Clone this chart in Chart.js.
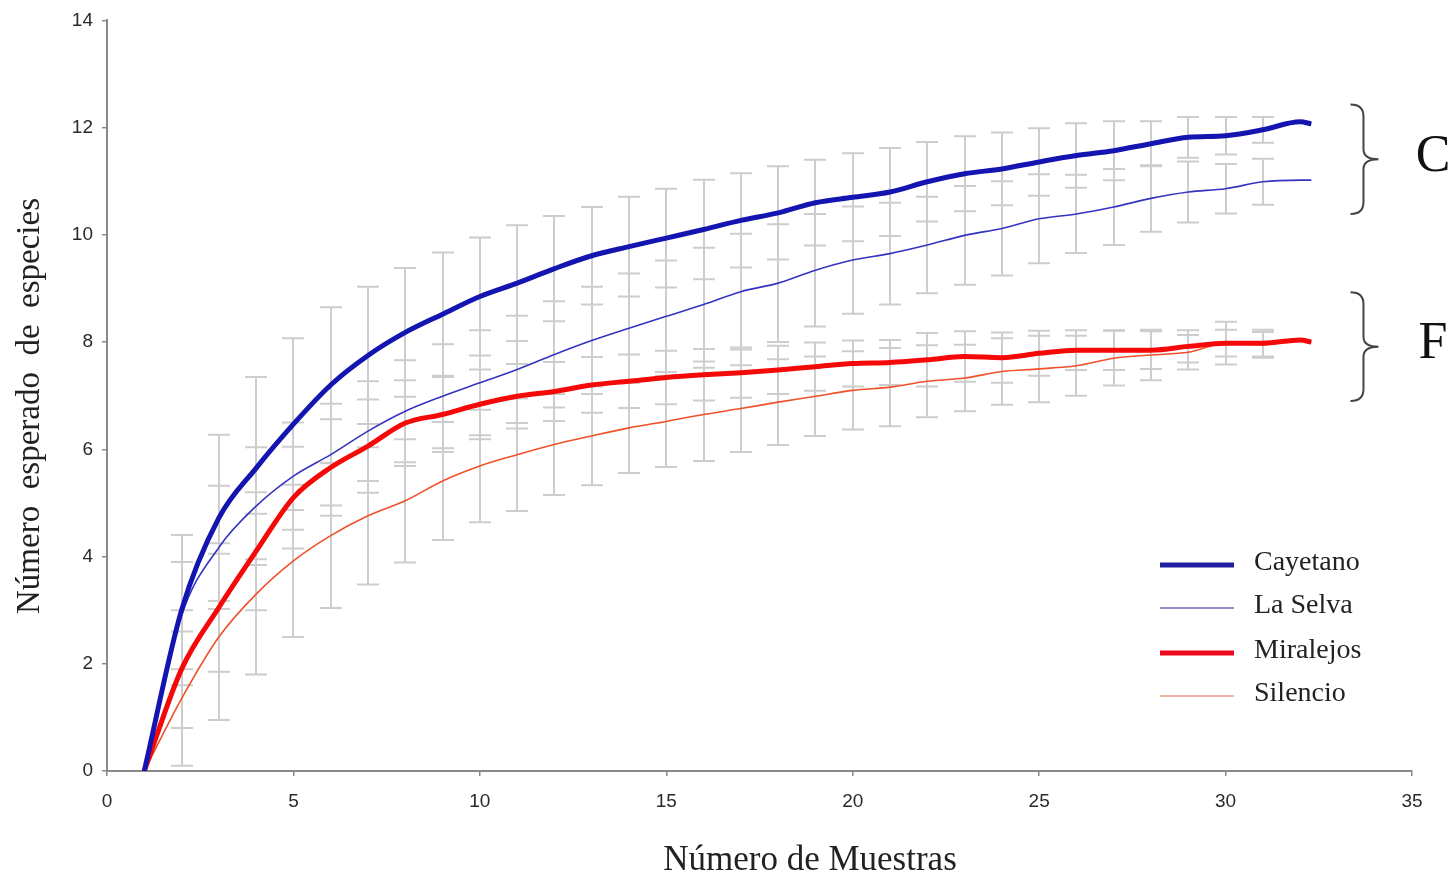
<!DOCTYPE html>
<html>
<head>
<meta charset="utf-8">
<script src="https://cdn.jsdelivr.net/npm/chart.js@4"></script>
<style>
  html, body { margin: 0; padding: 0; background: #fff; }
  #wrap { width: 1456px; height: 880px; position: relative; }
</style>
</head>
<body>
<div id="wrap"><canvas id="chart"></canvas></div>
<script>
// número de muestras (eje x) de cada punto de las curvas
const samples = [1, 2, 3, 4, 5, 6, 7, 8, 9, 10, 11, 12, 13, 14, 15, 16, 17, 18, 19, 20,
                 21, 22, 23, 24, 25, 26, 27, 28, 29, 30, 31, 32, 32.3];

// especies esperadas por sitio
const cayetano  = [0, 3.0, 4.72, 5.65, 6.47, 7.2, 7.75, 8.18, 8.52, 8.85, 9.1, 9.37, 9.61, 9.78, 9.94, 10.1, 10.27, 10.41, 10.6, 10.7,
                   10.8, 10.99, 11.14, 11.23, 11.36, 11.48, 11.57, 11.7, 11.82, 11.85, 11.96, 12.11, 12.07];
const laSelva   = [0, 2.9, 4.17, 4.94, 5.5, 5.9, 6.34, 6.71, 6.99, 7.24, 7.49, 7.77, 8.03, 8.26, 8.48, 8.7, 8.94, 9.1, 9.34, 9.53,
                   9.65, 9.81, 9.99, 10.12, 10.3, 10.39, 10.52, 10.68, 10.8, 10.86, 10.99, 11.02, 11.02];
const miralejos = [0, 1.9, 3.05, 4.1, 5.1, 5.66, 6.06, 6.49, 6.65, 6.84, 6.99, 7.08, 7.2, 7.27, 7.34, 7.39, 7.43, 7.48, 7.54, 7.6,
                   7.62, 7.67, 7.73, 7.71, 7.79, 7.85, 7.85, 7.85, 7.92, 7.98, 7.98, 8.04, 8.0];
const silencio  = [0, 1.35, 2.5, 3.3, 3.92, 4.39, 4.76, 5.04, 5.41, 5.69, 5.9, 6.09, 6.25, 6.4, 6.52, 6.65, 6.76, 6.88, 6.99, 7.1,
                   7.16, 7.27, 7.33, 7.45, 7.5, 7.56, 7.7, 7.76, 7.81, 7.98, 7.95, 8.04, 8.0];

// desviación estándar (barras de error) en x = 2..31
const errX = [2, 3, 4, 5, 6, 7, 8, 9, 10, 11, 12, 13, 14, 15, 16, 17, 18, 19, 20, 21,
              22, 23, 24, 25, 26, 27, 28, 29, 30, 31];
const cayetanoSd  = [1.4, 1.55, 1.7, 1.6, 1.45, 1.28, 1.2, 1.15, 1.1, 1.08, 0.98, 0.91, 0.93, 0.92, 0.93, 0.88, 0.87, 0.8, 0.82, 0.82,
                     0.74, 0.7, 0.68, 0.63, 0.6, 0.55, 0.42, 0.38, 0.35, 0.24];
const laSelvaSd   = [1.0, 1.15, 1.1, 1.0, 0.95, 0.93, 0.95, 0.97, 0.98, 1.0, 0.99, 1.0, 1.02, 1.04, 1.06, 1.08, 1.1, 1.05, 1.0, 0.95,
                     0.9, 0.92, 0.88, 0.83, 0.73, 0.71, 0.62, 0.57, 0.46, 0.43];
const miralejosSd = [1.1, 1.2, 1.1, 0.95, 0.9, 0.87, 0.8, 0.7, 0.65, 0.6, 0.55, 0.52, 0.5, 0.5, 0.48, 0.47, 0.45, 0.45, 0.43, 0.42,
                     0.5, 0.47, 0.47, 0.42, 0.37, 0.37, 0.35, 0.3, 0.25, 0.25];
const silencioSd  = [1.25, 1.55, 1.5, 1.42, 1.35, 1.28, 1.15, 1.1, 1.05, 1.05, 0.94, 0.92, 0.84, 0.85, 0.87, 0.81, 0.8, 0.74, 0.73, 0.73,
                     0.67, 0.62, 0.62, 0.62, 0.56, 0.51, 0.47, 0.32, 0.4, 0.24];

const xTicks = [0, 5, 10, 15, 20, 25, 30, 35];
const yTicks = [0, 2, 4, 6, 8, 10, 12, 14];

const xTitle = 'Número de Muestras';
const yTitle = 'Número  esperado  de  especies';

// grupos (llave + letra)
const groups = [
    { label: 'C', top: 12.43, bottom: 10.39 },
    { label: 'F', top: 8.93, bottom: 6.9 }
];

const series = [
    { name: 'Cayetano',  values: cayetano,  sd: cayetanoSd,  color: '#1414b0', width: 5,   legendColor: '#1e1ea0' },
    { name: 'La Selva',  values: laSelva,   sd: laSelvaSd,   color: '#3434c0', width: 1.6, legendColor: '#6a6ab8' },
    { name: 'Miralejos', values: miralejos, sd: miralejosSd, color: '#f50808', width: 5,   legendColor: '#ee0a1e' },
    { name: 'Silencio',  values: silencio,  sd: silencioSd,  color: '#f0502a', width: 1.6, legendColor: '#e89a84' }
];

const serif = "'Liberation Serif', 'Times New Roman', serif";
const sans = "'Liberation Sans', Arial, sans-serif";

// barras de error grises detrás de las curvas
const errorBars = {
    id: 'errorBars',
    beforeDatasetsDraw(chart) {
        const { ctx, scales: { x, y } } = chart;
        ctx.save();
        ctx.strokeStyle = '#cdcdcd';
        ctx.lineWidth = 2;
        series.forEach(s => {
            s.sd.forEach((sd, i) => {
                const idx = samples.indexOf(errX[i]);
                const m = s.values[idx];
                const px = Math.round(x.getPixelForValue(errX[i]));
                const yt = y.getPixelForValue(m + sd);
                const yb = y.getPixelForValue(Math.max(0, m - sd));
                ctx.beginPath();
                ctx.moveTo(px, yt); ctx.lineTo(px, yb);
                ctx.moveTo(px - 11, yt); ctx.lineTo(px + 11, yt);
                ctx.moveTo(px - 11, yb); ctx.lineTo(px + 11, yb);
                ctx.stroke();
            });
        });
        ctx.restore();
    }
};

// títulos de ejes, leyenda y llaves C / F
const extras = {
    id: 'extras',
    afterDraw(chart) {
        const { ctx, scales: { x, y } } = chart;
        ctx.save();
        ctx.fillStyle = '#222';
        ctx.textAlign = 'center';
        ctx.textBaseline = 'middle';
        ctx.font = '35px ' + serif;
        ctx.fillText(xTitle, 810, 861);
        ctx.save();
        ctx.translate(30, 406);
        ctx.rotate(-Math.PI / 2);
        ctx.font = '33px ' + serif;
        ctx.fillText(yTitle, 0, 0);
        ctx.restore();

        // leyenda
        const lx = 1160, tx = 1254;
        const rows = [563, 606, 651, 694];
        ctx.textAlign = 'start';
        series.forEach((s, i) => {
            ctx.strokeStyle = s.legendColor;
            ctx.lineWidth = s.width === 5 ? 5 : 1.6;
            ctx.beginPath();
            ctx.moveTo(lx, rows[i] + 2);
            ctx.lineTo(lx + 74, rows[i] + 2);
            ctx.stroke();
            ctx.fillStyle = '#222';
            ctx.font = '28px ' + serif;
            ctx.fillText(s.name, tx, rows[i]);
        });

        // llaves
        const bx = x.getPixelForValue(33.35);
        groups.forEach(g => {
            const t = y.getPixelForValue(g.top), b = y.getPixelForValue(g.bottom);
            const mid = (t + b) / 2;
            ctx.strokeStyle = '#444';
            ctx.lineWidth = 2;
            ctx.beginPath();
            ctx.moveTo(bx, t);
            ctx.quadraticCurveTo(bx + 13, t, bx + 13, t + 12);
            ctx.lineTo(bx + 13, mid - 10);
            ctx.quadraticCurveTo(bx + 13, mid, bx + 28, mid);
            ctx.quadraticCurveTo(bx + 13, mid, bx + 13, mid + 10);
            ctx.lineTo(bx + 13, b - 12);
            ctx.quadraticCurveTo(bx + 13, b, bx, b);
            ctx.stroke();
            ctx.fillStyle = '#111';
            ctx.font = '52px ' + serif;
            ctx.textAlign = 'center';
            ctx.fillText(g.label, 1433, mid - 2);
        });
        ctx.restore();
    }
};

const ctx = document.getElementById('chart').getContext('2d');
new Chart(ctx, {
    type: 'line',
    data: {
        datasets: series.map(s => ({
            label: s.name,
            data: samples.map((v, i) => ({ x: v, y: s.values[i] })),
            borderColor: s.color,
            borderWidth: s.width,
            pointRadius: 0,
            fill: false,
            cubicInterpolationMode: 'monotone'
        }))
    },
    options: {
        responsive: true,
        maintainAspectRatio: false,
        animation: false,
        layout: { padding: { top: 18, right: 44, left: 0, bottom: 0 } },
        plugins: { legend: { display: false }, tooltip: { enabled: false } },
        scales: {
            x: {
                type: 'linear', min: 0, max: 35,
                afterBuildTicks: s => { s.ticks = xTicks.map(v => ({ value: v })); },
                afterFit: s => { s.height = 109; },
                grid: { drawOnChartArea: false, tickLength: 5, color: '#8a8a8a', lineWidth: 1.5 },
                border: { color: '#8a8a8a', width: 2 },
                ticks: { color: '#2a2a2a', font: { family: sans, size: 19 }, padding: 14, maxRotation: 0 }
            },
            y: {
                type: 'linear', min: 0, max: 14,
                afterBuildTicks: s => { s.ticks = yTicks.map(v => ({ value: v })); },
                afterFit: s => { s.width = 107; },
                grid: { drawOnChartArea: false, tickLength: 5, color: '#8a8a8a', lineWidth: 1.5 },
                border: { color: '#8a8a8a', width: 2 },
                ticks: { color: '#2a2a2a', font: { family: sans, size: 19 }, padding: 9 }
            }
        }
    },
    plugins: [errorBars, extras]
});
</script>
</body>
</html>
